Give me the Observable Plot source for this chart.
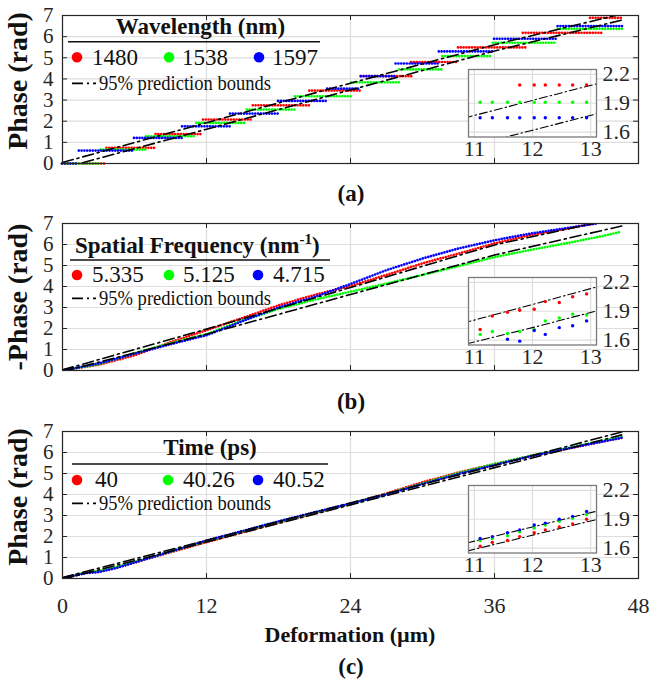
<!DOCTYPE html>
<html><head><meta charset="utf-8">
<script src="https://cdn.jsdelivr.net/npm/d3@7"></script>
<script src="https://cdn.jsdelivr.net/npm/@observablehq/plot@0.6"></script>
<style>
body{margin:0;background:#fff;font-family:"Liberation Serif", serif;}
#fig{position:relative;width:652px;height:685px;overflow:hidden;background:#fff;font-family:"Liberation Serif", serif;}
</style></head><body><div id="fig"></div><script>
// ---------- shared ticks / colours ----------
const xTicks = [0, 12, 24, 36, 48];
const yTicks = [0, 1, 2, 3, 4, 5, 6, 7];
const insetXTicks = [11, 12, 13];
const insetYTicks = [1.6, 1.9, 2.2];
const colors = ["#ff0000", "#00ff00", "#0000ff"];

// ---------- panel (a): wavelength, stair steps (level, start, end in µm) ----------
const aLabels = ["1480", "1538", "1597"];
const a1480Level = [0, 0.74, 1.39, 2.08, 2.75, 3.45, 4.13, 4.80, 5.49, 6.18, 6.89];
const a1480Start = [0, 3.7, 7.8, 11.75, 15.9, 20.6, 24.9, 29.1, 33.0, 38.4, 44.0];
const a1480End   = [3.6, 7.8, 11.7, 15.9, 20.6, 24.9, 29.1, 33.0, 38.6, 45.0, 46.7];
const a1538Level = [0, 0.66, 1.29, 1.92, 2.55, 3.18, 3.84, 4.45, 5.08, 5.71, 6.37];
const a1538Start = [0, 3.2, 7.0, 11.2, 15.4, 19.4, 24.1, 28.1, 31.7, 35.9, 41.3];
const a1538End   = [3.2, 7.0, 11.2, 15.3, 19.4, 24.1, 28.1, 31.6, 35.9, 41.2, 46.7];
const a1597Level = [0, 0.61, 1.21, 1.76, 2.36, 2.96, 3.54, 4.13, 4.73, 5.30, 5.90, 6.50];
const a1597Start = [0, 1.4, 6.0, 10.0, 14.0, 18.0, 22.1, 24.9, 27.8, 31.4, 36.0, 41.3];
const a1597End   = [1.3, 5.9, 10.0, 14.0, 18.0, 22.0, 24.8, 27.8, 31.4, 35.9, 41.2, 46.7];

// prediction bounds (all panels share x knots)
const boundX = [0, 12, 24, 36, 46.6];
const aUpper = [0.05, 1.93, 3.80, 5.62, 7.07];
const aLower = [-0.22, 1.62, 3.48, 5.32, 6.78];

// ---------- panel (b): spatial frequency ----------
const bLabels = ["5.335", "5.125", "4.715"];
const b5335X = [0, 3, 6, 9, 12, 15, 18, 21, 24, 27, 30, 33, 36, 39, 42, 44.3];
const b5335Y = [0, 0.27, 0.72, 1.35, 1.92, 2.50, 3.10, 3.60, 4.02, 4.55, 5.10, 5.57, 6.05, 6.45, 6.75, 7.0];
const b5125X = [0, 3, 6, 9, 12, 15, 18, 21, 24, 27, 30, 33, 36, 39, 42, 45, 46.5];
const b5125Y = [0, 0.30, 0.82, 1.30, 1.73, 2.38, 2.93, 3.37, 3.75, 4.14, 4.55, 4.97, 5.40, 5.74, 6.06, 6.40, 6.60];
const b4715X = [0, 3, 6, 9, 12, 15, 18, 21, 24, 27, 30, 33, 36, 39, 42, 44.5];
const b4715Y = [0, 0.33, 0.80, 1.25, 1.68, 2.35, 3.00, 3.50, 4.12, 4.78, 5.33, 5.81, 6.20, 6.52, 6.78, 7.0];
const bUpper = [0.03, 1.97, 3.95, 5.98, 7.30];
const bLower = [-0.05, 1.73, 3.62, 5.50, 6.88];

// ---------- panel (c): time ----------
const cLabels = ["40", "40.26", "40.52"];
const cX = [0, 1, 2, 3, 4.5, 6, 9, 12, 15, 18, 21, 24, 27, 30, 33, 36, 39, 42, 45, 46.6];
const c40Y    = [0, 0.14, 0.27, 0.33, 0.52, 0.76, 1.25, 1.73, 2.20, 2.66, 3.10, 3.55, 4.05, 4.58, 5.05, 5.45, 5.82, 6.17, 6.52, 6.70];
const c4026Y  = [0, 0.15, 0.29, 0.35, 0.54, 0.78, 1.28, 1.78, 2.24, 2.70, 3.13, 3.56, 4.02, 4.52, 5.02, 5.45, 5.84, 6.20, 6.56, 6.74];
const c4052Y  = [0, 0.14, 0.26, 0.30, 0.50, 0.76, 1.28, 1.81, 2.26, 2.72, 3.15, 3.57, 4.00, 4.50, 4.98, 5.40, 5.82, 6.18, 6.52, 6.70];
const cUpper = [0.05, 1.82, 3.60, 5.38, 6.98];
const cLower = [-0.03, 1.735, 3.50, 5.28, 6.84];

// ---------- insets (samples between 11 and 13 µm) ----------
const insetX = [11.10, 11.31, 11.57, 11.78, 12.03, 12.22, 12.46, 12.69, 12.93];
const aInset1480 = [null, null, null, 2.09, 2.09, 2.09, 2.09, 2.09, 2.09];
const aInset1538 = [1.91, 1.91, 1.91, 1.91, 1.91, 1.91, 1.91, 1.91, 1.91];
const aInset1597 = [1.75, 1.75, 1.75, 1.75, 1.75, 1.75, 1.75, 1.75, 1.75];
const bInset5335 = [1.71, 1.85, 1.89, 1.91, 1.92, 2.00, 1.99, 2.05, 2.08];
const bInset5125 = [1.66, 1.69, 1.67, 1.69, 1.71, 1.80, 1.83, 1.87, 1.86];
const bInset4715 = [null, null, 1.61, 1.59, 1.70, 1.66, 1.73, 1.75, 1.80];
const cInset40   = [1.62, 1.66, 1.68, 1.72, 1.76, 1.79, 1.82, 1.85, 1.90];
const cInset4026 = [1.68, 1.70, 1.73, 1.77, 1.81, 1.84, 1.88, 1.91, 1.95];
const cInset4052 = [1.70, 1.72, 1.76, 1.79, 1.84, 1.86, 1.90, 1.93, 1.98];

// ---------- helpers ----------
const FONT = "Liberation Serif";
const AXIS = "#262626";
const GRID = "#dedede";
const DASHDOT = "11 4 2 4";
const fig = document.getElementById("fig");
function place(el, left, top) {
  el.style.position = "absolute"; el.style.left = left + "px"; el.style.top = top + "px";
  fig.appendChild(el);
}
const pts = (xs, ys) => xs.map((x, i) => ({x, y: ys[i]})).filter(d => d.y != null);
const steps = (lv, s, e) => lv.map((v, i) => ({y: v, x1: s[i], x2: e[i]}));

function boundMarks(upper, lower, w, dash) {
  return [upper, lower].map(b => Plot.line(pts(boundX, b), {
    x: "x", y: "y", stroke: "#000", strokeWidth: w, strokeDasharray: dash, clip: true
  }));
}

function mainPlot({frameH, dataMarks, upper, lower, showX}) {
  const mb = showX ? 50 : 6;
  const fw = 652 - 62 - 14;
  const marks = [
    Plot.gridX(xTicks, {stroke: GRID, strokeOpacity: 1, strokeWidth: 1.2}),
    Plot.gridY(yTicks, {stroke: GRID, strokeOpacity: 1, strokeWidth: 1.2}),
    ...dataMarks,
    ...boundMarks(upper, lower, 1.6, DASHDOT),
    Plot.frame({stroke: AXIS, strokeWidth: 1.2}),
    Plot.tickY(yTicks, {stroke: AXIS, insetRight: fw - 5}),
    Plot.tickY(yTicks, {stroke: AXIS, insetLeft: fw - 5}),
    Plot.tickX(xTicks, {stroke: AXIS, insetBottom: frameH - 5}),
    Plot.tickX(xTicks, {stroke: AXIS, insetTop: frameH - 5}),
    Plot.axisY(yTicks, {tickSize: 0, tickPadding: 9, label: null, fontSize: 21, fontFamily: FONT})
  ];
  if (showX) marks.push(Plot.axisX(xTicks, {tickSize: 0, tickPadding: 19, label: null, fontSize: 22, fontFamily: FONT}));
  return Plot.plot({
    width: 652, height: 15 + frameH + mb,
    marginTop: 15, marginBottom: mb, marginLeft: 62, marginRight: 14,
    x: {domain: [0, 48], label: null, ...(showX ? {} : {axis: null})},
    y: {domain: [0, 7], label: null},
    style: {background: "transparent", fontFamily: FONT, fontSize: "22px", color: AXIS, overflow: "visible"},
    marks
  });
}

function insetPlot({series, upper, lower}) {
  return Plot.plot({
    width: 188, height: 98, marginLeft: 20, marginRight: 40, marginTop: 5, marginBottom: 25.5,
    x: {domain: [10.9, 13.1], label: null},
    y: {domain: [1.55, 2.25], label: null},
    style: {background: "transparent", fontFamily: FONT, fontSize: "22px", color: AXIS, overflow: "visible"},
    marks: [
      Plot.frame({fill: "white", stroke: null}),
      Plot.gridX(insetXTicks, {stroke: GRID, strokeOpacity: 1, strokeWidth: 1.2}),
      Plot.gridY(insetYTicks, {stroke: GRID, strokeOpacity: 1, strokeWidth: 1.2}),
      ...boundMarks(upper, lower, 1.1, "8 3 1.5 3"),
      ...series.map((ys, i) => Plot.dot(pts(insetX, ys), {x: "x", y: "y", r: 1.7, fill: colors[i], stroke: null})),
      Plot.frame({stroke: "#7a7a7a", strokeWidth: 1.3}),
      Plot.axisX(insetXTicks, {tickSize: 0, tickPadding: 3, label: null, fontSize: 22, fontFamily: FONT}),
      Plot.axisY(insetYTicks, {anchor: "right", tickSize: 0, tickPadding: 6, label: null, fontSize: 22, fontFamily: FONT})
    ]
  });
}

const dotStyle = {strokeWidth: 2.7, strokeLinecap: "round", strokeDasharray: "0 2.8"};

// ---------- panel (a) ----------
const aSteps = [[a1480Level, a1480Start, a1480End], [a1538Level, a1538Start, a1538End], [a1597Level, a1597Start, a1597End]];
place(mainPlot({
  frameH: 148, upper: aUpper, lower: aLower, showX: false,
  dataMarks: aSteps.map((s, i) => Plot.ruleY(steps(...s), {y: "y", x1: "x1", x2: "x2", stroke: colors[i], ...dotStyle}))
}), 0, 0);

// ---------- panel (b) ----------
const bSeries = [[b5335X, b5335Y], [b5125X, b5125Y], [b4715X, b4715Y]];
place(mainPlot({
  frameH: 147, upper: bUpper, lower: bLower, showX: false,
  dataMarks: bSeries.map((s, i) => Plot.line(pts(...s), {x: "x", y: "y", stroke: colors[i], ...dotStyle, clip: true}))
}), 0, 208);

// ---------- panel (c) ----------
const cSeries = [c40Y, c4026Y, c4052Y];
place(mainPlot({
  frameH: 147, upper: cUpper, lower: cLower, showX: true,
  dataMarks: cSeries.map((ys, i) => Plot.line(pts(cX, ys), {x: "x", y: "y", stroke: colors[i], ...dotStyle, clip: true}))
}), 0, 416);

// ---------- insets ----------
place(insetPlot({series: [aInset1480, aInset1538, aInset1597], upper: aUpper, lower: aLower}), 448, 63.5);
place(insetPlot({series: [bInset5335, bInset5125, bInset4715], upper: bUpper, lower: bLower}), 448, 271.5);
place(insetPlot({series: [cInset40, cInset4026, cInset4052], upper: cUpper, lower: cLower}), 448, 479.5);

// ---------- overlay: axis titles, panel letters, legends ----------
const ov = d3.create("svg").attr("width", 652).attr("height", 685).style("overflow", "visible");
const T = (x, y, s, o = {}) => {
  const g = ov.append("g").attr("transform", `translate(${x},${y})` + (o.rotate ? " rotate(-90)" : ""));
  const t = g.append("text").text(s).attr("font-family", FONT)
    .attr("font-size", o.size || 22).attr("font-weight", o.bold ? "bold" : null)
    .attr("text-anchor", o.anchor || "start").attr("fill", o.fill || "#111");
  if (o.len) t.attr("textLength", o.len).attr("lengthAdjust", "spacingAndGlyphs");
  return t;
};
// y-axis titles
T(27, 81, "Phase (rad)", {bold: true, size: 28, anchor: "middle", rotate: true});
T(27, 297, "-Phase (rad)", {bold: true, size: 28, anchor: "middle", rotate: true});
T(27, 497, "Phase (rad)", {bold: true, size: 28, anchor: "middle", rotate: true});
// x-axis title and panel letters
T(350, 642, "Deformation (\u00b5m)", {bold: true, size: 22, anchor: "middle"});
T(351, 201, "(a)", {bold: true, size: 23, anchor: "middle"});
T(351, 409, "(b)", {bold: true, size: 23, anchor: "middle"});
T(351, 674, "(c)", {bold: true, size: 23, anchor: "middle"});

function legend({titleNode, sepY, sepX1, sepX2, rowY, rowBase, dotX, textX, labels, row2Y, row2Base}) {
  titleNode();
  ov.append("line").attr("x1", sepX1).attr("x2", sepX2).attr("y1", sepY).attr("y2", sepY)
    .attr("stroke", "#111").attr("stroke-width", 1.4);
  labels.forEach((lab, i) => {
    ov.append("circle").attr("cx", dotX[i]).attr("cy", rowY).attr("r", 5.3).attr("fill", colors[i]);
    T(textX[i], rowBase, lab, {size: 23});
  });
  ov.append("line").attr("x1", 72).attr("x2", 96).attr("y1", row2Y).attr("y2", row2Y)
    .attr("stroke", "#000").attr("stroke-width", 1.8).attr("stroke-dasharray", DASHDOT);
  T(99, row2Base, "95% prediction bounds", {size: 20, len: 172});
}
legend({
  titleNode: () => T(200.5, 34.3, "Wavelength (nm)", {bold: true, size: 23, anchor: "middle"}),
  sepY: 41.7, sepX1: 68, sepX2: 320, rowY: 57.3, rowBase: 65,
  dotX: [77, 169, 259], textX: [92, 182, 272], labels: aLabels, row2Y: 83.3, row2Base: 90
});
legend({
  titleNode: () => {
    const t = T(75, 252.7, "Spatial Frequency (nm", {bold: true, size: 23});
    t.append("tspan").attr("dy", -9).attr("font-size", 15).text("-1");
    t.append("tspan").attr("dy", 9).attr("font-size", 23).text(")");
  },
  sepY: 260, sepX1: 70, sepX2: 330, rowY: 275, rowBase: 282,
  dotX: [77, 169, 258], textX: [92, 183, 273], labels: bLabels, row2Y: 298.3, row2Base: 305
});
legend({
  titleNode: () => T(210, 455, "Time (ps)", {bold: true, size: 23, anchor: "middle"}),
  sepY: 464, sepX1: 72, sepX2: 328, rowY: 480, rowBase: 487,
  dotX: [77, 168, 258], textX: [95, 183, 273], labels: cLabels, row2Y: 503.3, row2Base: 510
});
place(ov.node(), 0, 0);
</script></body></html>
